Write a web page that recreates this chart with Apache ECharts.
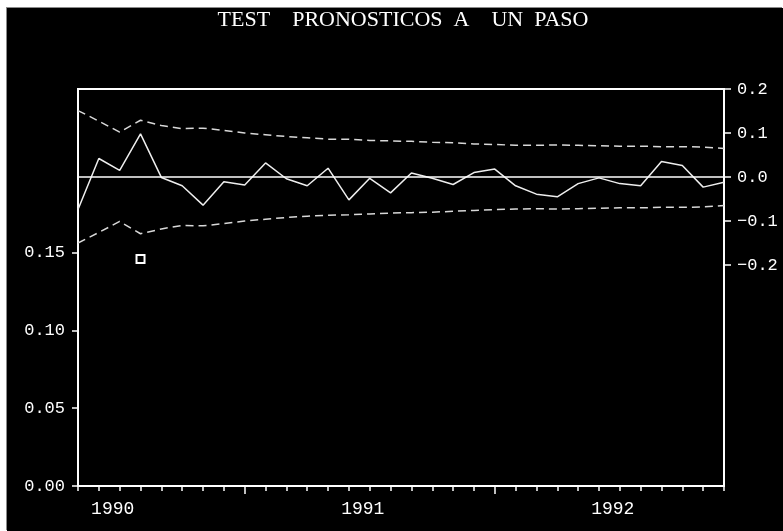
<!DOCTYPE html>
<html>
<head>
<meta charset="utf-8">
<title>TEST PRONOSTICOS A UN PASO</title>
<script src="https://cdn.jsdelivr.net/npm/echarts@6/dist/echarts.min.js"></script>
<style>
  html, body { margin: 0; padding: 0; background: #fff; width: 783px; height: 531px; overflow: hidden; }
  #chart { position: absolute; left: 7px; top: 8px; width: 776px; height: 523px; box-shadow: -1px -1px 0 #8a8a8a; }
</style>
</head>
<body>
<div id="chart"></div>
<script>
// Monthly sample, 1990M05 - 1992M12
const months = [
  '1990M05', '1990M06', '1990M07', '1990M08', '1990M09', '1990M10', '1990M11', '1990M12',
  '1991M01', '1991M02', '1991M03', '1991M04', '1991M05', '1991M06', '1991M07', '1991M08',
  '1991M09', '1991M10', '1991M11', '1991M12',
  '1992M01', '1992M02', '1992M03', '1992M04', '1992M05', '1992M06', '1992M07', '1992M08',
  '1992M09', '1992M10', '1992M11', '1992M12'
];

// Recursive residuals (right scale)
const residuals = [
  -0.074, 0.042, 0.015, 0.098, -0.001, -0.020, -0.064, -0.011,
  -0.018, 0.032, -0.004, -0.020, 0.020, -0.052, -0.003, -0.036,
  0.009, -0.003, -0.017, 0.010,
  0.018, -0.020, -0.039, -0.045, -0.015, -0.002, -0.015, -0.020,
  0.035, 0.026, -0.023, -0.012
];

// +/- 2 S.E. bands (right scale)
const bandUpper = [
  0.151, 0.127, 0.102, 0.129, 0.117, 0.110, 0.111, 0.106,
  0.100, 0.096, 0.092, 0.089, 0.086, 0.086, 0.083, 0.082,
  0.081, 0.079, 0.078, 0.075,
  0.074, 0.072, 0.072, 0.073, 0.072, 0.071, 0.070, 0.070,
  0.069, 0.069, 0.068, 0.065
];
const bandLower = [
  -0.150, -0.126, -0.101, -0.129, -0.118, -0.110, -0.111, -0.106,
  -0.100, -0.096, -0.092, -0.089, -0.087, -0.086, -0.084, -0.082,
  -0.081, -0.080, -0.078, -0.076,
  -0.074, -0.073, -0.072, -0.073, -0.072, -0.071, -0.070, -0.070,
  -0.069, -0.069, -0.068, -0.065
];

// One-step probabilities (left scale), only those below 0.15 are plotted
const probabilities = [
  null, null, null, 0.146, null, null, null, null,
  null, null, null, null, null, null, null, null,
  null, null, null, null,
  null, null, null, null, null, null, null, null,
  null, null, null, null
];

const titleText = 'TEST    PRONOSTICOS  A    UN  PASO';

const MONO = '"Liberation Mono", "DejaVu Sans Mono", monospace';
const WHITE = '#ffffff';

function fmtRight(v) {
  const a = Math.abs(v).toFixed(1);
  if (Math.abs(v) < 1e-9) return '0.0';
  return v < 0 ? '\u2212' + a : a;
}

const chart = echarts.init(document.getElementById('chart'), null, { renderer: 'canvas' });

const option = {
  backgroundColor: '#000',
  animation: false,
  title: {
    text: titleText,
    left: 396,
    top: 1,
    padding: 0,
    textAlign: 'center',
    textStyle: {
      color: WHITE,
      fontFamily: '"Liberation Serif", "DejaVu Serif", serif',
      fontWeight: 'normal',
      fontSize: 22
    }
  },
  grid: [
    // frame
    { left: 71, width: 646, top: 81, height: 397, show: true, borderColor: WHITE, borderWidth: 2, backgroundColor: 'transparent' },
    // residual scale (-0.2 .. 0.2)
    { left: 71, width: 646, top: 81, height: 176 },
    // probability scale (0 .. 0.15)
    { left: 71, width: 646, top: 244.7, height: 233.3 }
  ],
  xAxis: [
    {
      gridIndex: 0, type: 'category', data: months, boundaryGap: false,
      axisLine: { show: true, lineStyle: { color: WHITE, width: 2 } },
      axisTick: { show: true, interval: 0, length: 5, lineStyle: { color: WHITE, width: 1.5 } },
      axisLabel: {
        interval: (i, v) => v.endsWith('M07'),
        formatter: v => v.slice(0, 4),
        color: WHITE, fontFamily: MONO, fontSize: 18, margin: 14,
        padding: [0, 14, 0, 0]
      },
      splitLine: { show: false }
    },
    {
      gridIndex: 0, type: 'category', data: months, boundaryGap: false, position: 'bottom',
      axisLine: { show: false },
      axisTick: { show: true, interval: (i, v) => v.endsWith('M01'), length: 8, lineStyle: { color: WHITE, width: 1.5 } },
      axisLabel: { show: false },
      splitLine: { show: false }
    },
    { gridIndex: 1, type: 'category', data: months, boundaryGap: false, show: false },
    { gridIndex: 2, type: 'category', data: months, boundaryGap: false, show: false }
  ],
  yAxis: [
    { gridIndex: 0, type: 'value', show: false },
    {
      gridIndex: 1, type: 'value', position: 'right', min: -0.2, max: 0.2, interval: 0.1,
      axisLine: { show: false },
      axisTick: { show: true, length: 7, lineStyle: { color: WHITE, width: 1.5 } },
      axisLabel: { color: WHITE, fontFamily: MONO, fontSize: 17, margin: 13, formatter: fmtRight },
      splitLine: { show: false }
    },
    {
      gridIndex: 2, type: 'value', position: 'left', min: 0, max: 0.15, interval: 0.05,
      axisLine: { show: false },
      axisTick: { show: true, length: 6, lineStyle: { color: WHITE, width: 1.5 } },
      axisLabel: { color: WHITE, fontFamily: MONO, fontSize: 17, margin: 13, formatter: v => v.toFixed(2) },
      splitLine: { show: false }
    }
  ],
  series: [
    {
      name: 'Recursive residuals', type: 'line', xAxisIndex: 2, yAxisIndex: 1,
      data: residuals, symbol: 'none',
      lineStyle: { color: '#eeeeee', width: 1.5 },
      markLine: {
        silent: true, symbol: ['none', 'none'], label: { show: false },
        lineStyle: { color: WHITE, type: 'solid', width: 1.5 },
        data: [{ yAxis: 0 }]
      }
    },
    {
      name: '+2 S.E.', type: 'line', xAxisIndex: 2, yAxisIndex: 1,
      data: bandUpper, symbol: 'none',
      lineStyle: { color: '#d8d8d8', width: 1.5, type: [8, 5] }
    },
    {
      name: '-2 S.E.', type: 'line', xAxisIndex: 2, yAxisIndex: 1,
      data: bandLower, symbol: 'none',
      lineStyle: { color: '#d8d8d8', width: 1.5, type: [8, 5] }
    },
    {
      name: 'One-step probability', type: 'scatter', xAxisIndex: 3, yAxisIndex: 2,
      data: probabilities, symbol: 'rect', symbolSize: 8,
      itemStyle: { color: '#000', borderColor: WHITE, borderWidth: 2, opacity: 1 }
    }
  ]
};

chart.setOption(option);
</script>
</body>
</html>
